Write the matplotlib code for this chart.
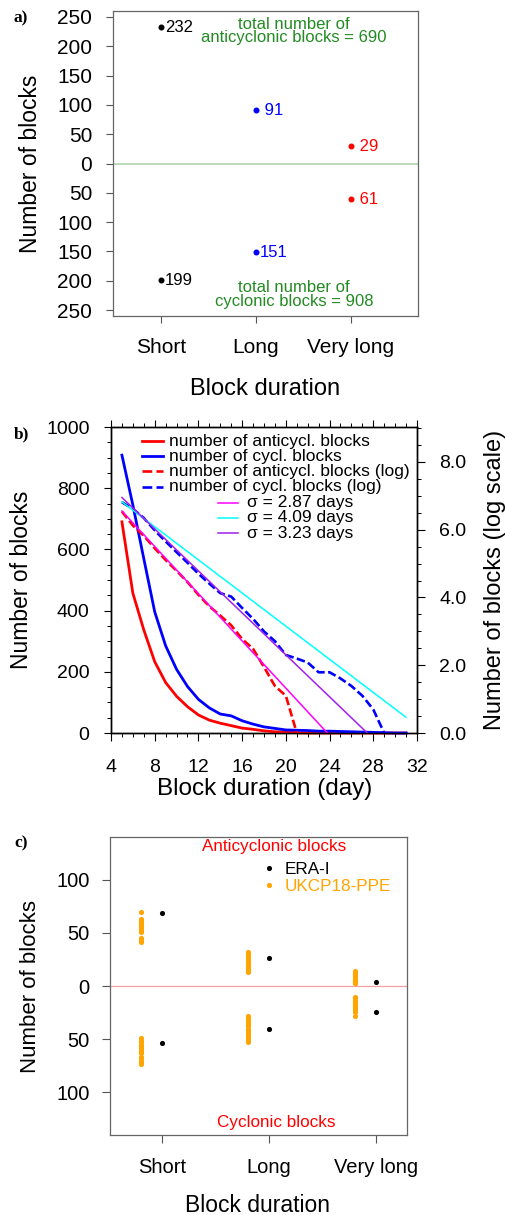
import numpy as np
import matplotlib
matplotlib.use("Agg")
import matplotlib.pyplot as plt
from matplotlib.ticker import FixedLocator, FuncFormatter, MultipleLocator

plt.rcParams['font.family'] = ['Liberation Sans', 'DejaVu Sans']

# ---- a) ERA-I blocks per duration class
duration_classes = ["Short", "Long", "Very long"]
anticyc_counts = [232, 91, 29]
cyc_counts = [199, 151, 61]
class_colors = ["black", "blue", "red"]
total_anticyc = 690
total_cyc = 908

# ---- b) number of blocks lasting at least d days
days = list(range(5, 32))
anticyc_by_duration = [690, 457, 337, 233, 165, 120, 86, 59, 42, 32, 24, 16, 12, 7, 4, 3, 1,
                       0, 0, 0, 0, 0, 0, 0, 0, 0, 0]
cyc_by_duration = [908, 745, 570, 396, 285, 208, 152, 110, 82, 62, 56, 40, 29, 20, 15, 10, 9,
                   8, 6, 6, 5, 4, 3, 2, 1, 0, 0]
fit_sigma = [2.87, 4.09, 3.23]
fit_start = [6.55, 6.82, 6.95]
fit_colors = ["magenta", "cyan", "#a020f0"]

# ---- c) ERA-I vs UKCP18-PPE members
era_anticyc = [69, 26, 4]
era_cyc = [54, 40, 24]
ppe_anticyc_short = [70, 63, 62, 61, 60, 58, 57, 55, 54, 52, 51, 45, 43, 42, 41]
ppe_anticyc_long = [32, 30, 29, 27, 26, 24, 23, 21, 20, 19, 18, 16, 15, 14, 13]
ppe_anticyc_vlong = [14, 13, 12, 11, 10, 9, 8, 7, 6, 5, 5, 4, 4, 3, 3]
ppe_cyc_short = [49, 52, 53, 55, 56, 58, 59, 61, 62, 63, 67, 68, 70, 72, 73]
ppe_cyc_long = [28, 30, 31, 33, 35, 37, 38, 40, 42, 44, 45, 47, 49, 51, 53]
ppe_cyc_vlong = [10, 11, 12, 13, 14, 15, 16, 17, 18, 19, 20, 21, 23, 24, 28]

W, H = 506, 1215
fig = plt.figure(figsize=(W / 100, H / 100), dpi=100)


def px_axes(left, top, right, bottom):
    return fig.add_axes([left / W, 1 - bottom / H, (right - left) / W, (bottom - top) / H])


abs_fmt = FuncFormatter(lambda v, p: f"{abs(v):.0f}")
letter_font = dict(family="Liberation Serif", fontweight="bold", fontsize=12.5)

# ================= a)
ax = px_axes(113, 11, 418, 316)
xpos = np.arange(1, len(duration_classes) + 1)
ax.axhline(0, color="#b4d8b4", lw=1.3, zorder=1)
for i, c in enumerate(class_colors):
    for v in (anticyc_counts[i], -cyc_counts[i]):
        ax.plot(xpos[i], v, "o", color=c, ms=3.3, zorder=3)
        ax.annotate(f"{abs(v):3d}", (xpos[i], v), xytext=(3, 0), textcoords="offset points",
                    ha="left", va="center", color=c, fontsize=12)
ax.text(2.4, 226, f"total number of\nanticyclonic blocks = {total_anticyc}", color="forestgreen",
        ha="center", va="center", fontsize=12, linespacing=0.9)
ax.text(2.4, -223, f"total number of\ncyclonic blocks = {total_cyc}", color="forestgreen",
        ha="center", va="center", fontsize=12, linespacing=0.9)
ax.set_xlim(0.495, 3.705)
ax.set_ylim(-260, 260)
ax.set_xticks(xpos, duration_classes)
ax.yaxis.set_major_locator(FixedLocator(np.arange(-250, 251, 50)))
ax.yaxis.set_major_formatter(abs_fmt)
ax.tick_params(labelsize=15, length=5, width=0.8, color="#555555", pad=10)
ax.tick_params(axis="x", pad=11)
for s in ax.spines.values():
    s.set_color("#666666")
    s.set_linewidth(0.9)
ax.set_xlabel("Block duration", fontsize=17, va="center")
ax.xaxis.set_label_coords(0.498, -0.238)
ax.set_ylabel("Number of blocks", fontsize=16.5, va="center")
ax.yaxis.set_label_coords(-0.272, 0.5)
fig.text(21 / W, 1 - 18 / H, "a)", ha="center", va="center", **letter_font)

# ================= b)
ax = px_axes(111, 427, 417, 733)
axr = ax.twinx()
sol_a, = ax.plot(days, anticyc_by_duration, color="red", lw=2.0, clip_on=False, zorder=3)
sol_c, = ax.plot(days, cyc_by_duration, color="blue", lw=2.0, clip_on=False, zorder=3)

log_a = np.log(np.where(np.array(anticyc_by_duration) > 0, anticyc_by_duration, np.nan))
log_c = np.log(np.where(np.array(cyc_by_duration) > 0, cyc_by_duration, np.nan))
dash = (0, (3.2, 1.3))
dsh_a, = axr.plot(days, log_a, color="red", lw=1.9, ls=dash)
dsh_c, = axr.plot(days, log_c, color="blue", lw=1.9, ls=dash)
fits = []
d = np.array([days[0], days[-1]])
for sig, y0, c in zip(fit_sigma, fit_start, fit_colors):
    ln, = axr.plot(d, y0 - (d - days[0]) / sig, color=c, lw=1.1)
    fits.append(ln)

ax.set_xlim(4, 32)
ax.set_ylim(0, 1000)
axr.set_ylim(0, 9.03)
ax.xaxis.set_major_locator(MultipleLocator(4))
ax.xaxis.set_minor_locator(MultipleLocator(1))
ax.yaxis.set_major_locator(MultipleLocator(200))
ax.yaxis.set_minor_locator(MultipleLocator(50))
axr.yaxis.set_major_locator(MultipleLocator(2))
axr.yaxis.set_minor_locator(MultipleLocator(0.5))
axr.yaxis.set_major_formatter(FuncFormatter(lambda v, p: f"{v:.1f}"))
ax.tick_params(axis="x", which="both", top=True, direction="out")
ax.tick_params(which="major", length=5.4, width=0.8, labelsize=14, pad=10)
ax.tick_params(axis="x", which="major", pad=13)
ax.tick_params(which="minor", length=2.9, width=0.7)
axr.tick_params(which="major", length=6, width=0.8, labelsize=14, pad=10)
axr.tick_params(which="minor", length=3, width=0.7)
for a in (ax, axr):
    for s in a.spines.values():
        s.set_linewidth(1.0)
ax.set_xlabel("Block duration (day)", fontsize=17.5, va="center")
ax.xaxis.set_label_coords(0.503, -0.183)
ax.set_ylabel("Number of blocks", fontsize=16.5, va="center")
ax.yaxis.set_label_coords(-0.294, 0.5)
axr.set_ylabel("Number of blocks (log scale)", fontsize=17, va="center", rotation=90)
axr.yaxis.set_label_coords(1.255, 0.5)

# legend keys drawn in axes fraction
group1 = [(sol_a, "number of anticycl. blocks"), (sol_c, "number of cycl. blocks"),
          (dsh_a, "number of anticycl. blocks (log)"), (dsh_c, "number of cycl. blocks (log)")]
group2 = [(ln, f"\u03c3 = {s:.2f} days") for ln, s in zip(fits, fit_sigma)]
for rows, x0, x1, xt, ys in ((group1, 0.101, 0.170, 0.190, [0.954, 0.905, 0.855, 0.804]),
                             (group2, 0.350, 0.415, 0.444, [0.752, 0.703, 0.652])):
    for (ln, lab), y in zip(rows, ys):
        axr.plot([x0, x1], [y, y], transform=axr.transAxes, color=ln.get_color(),
                 ls=ln.get_linestyle(), lw=ln.get_linewidth(), clip_on=False)
        axr.text(xt, y, lab, transform=axr.transAxes, ha="left", va="center", fontsize=12.5)
fig.text(22 / W, 1 - 434 / H, "b)", ha="center", va="center", **letter_font)

# ================= c)
ax = px_axes(110, 837, 407, 1135)
ax.axhline(0, color="#f2a0a0", lw=0.9, zorder=1)
ppe_anticyc = [ppe_anticyc_short, ppe_anticyc_long, ppe_anticyc_vlong]
ppe_cyc = [ppe_cyc_short, ppe_cyc_long, ppe_cyc_vlong]
orange = "#ffa500"
for i in range(len(duration_classes)):
    vals = ppe_anticyc[i] + [-v for v in ppe_cyc[i]]
    ax.plot([xpos[i] - 0.2] * len(vals), vals, "o", color=orange, ms=3.7, mew=0, zorder=2,
            label="UKCP18-PPE" if i == 0 else None)
ax.plot(xpos, era_anticyc, "o", color="black", ms=3.7, mew=0, zorder=3, label="ERA-I")
ax.plot(xpos, [-v for v in era_cyc], "o", color="black", ms=3.7, mew=0, zorder=3)
ax.text(2.05, 131.5, "Anticyclonic blocks", color="red", ha="center", va="center", fontsize=12.3)
ax.text(2.07, -128.6, "Cyclonic blocks", color="red", ha="center", va="center", fontsize=12.3)
h, l = ax.get_legend_handles_labels()
ax.legend(h[::-1], l[::-1], loc="upper left", bbox_to_anchor=(0.507, 0.916), frameon=False,
          fontsize=12.3, handlelength=1.0, handletextpad=0.4, labelspacing=0.1, borderpad=0,
          borderaxespad=0, labelcolor=["black", orange], markerscale=1.0)
ax.set_xlim(0.514, 3.29)
ax.set_ylim(-140, 140)
ax.set_xticks(xpos, duration_classes)
ax.yaxis.set_major_locator(FixedLocator([-100, -50, 0, 50, 100]))
ax.yaxis.set_major_formatter(abs_fmt)
ax.tick_params(labelsize=14.5, length=5.5, width=0.8, color="#555555", pad=9)
ax.tick_params(axis="x", pad=11)
for s in ax.spines.values():
    s.set_color("#666666")
    s.set_linewidth(0.9)
ax.set_xlabel("Block duration", fontsize=16.5, va="center")
ax.xaxis.set_label_coords(0.498, -0.235)
ax.set_ylabel("Number of blocks", fontsize=16, va="center")
ax.yaxis.set_label_coords(-0.269, 0.497)
fig.text(21 / W, 1 - 843 / H, "c)", ha="center", va="center", **letter_font)

fig.savefig("out.png", dpi=100)
